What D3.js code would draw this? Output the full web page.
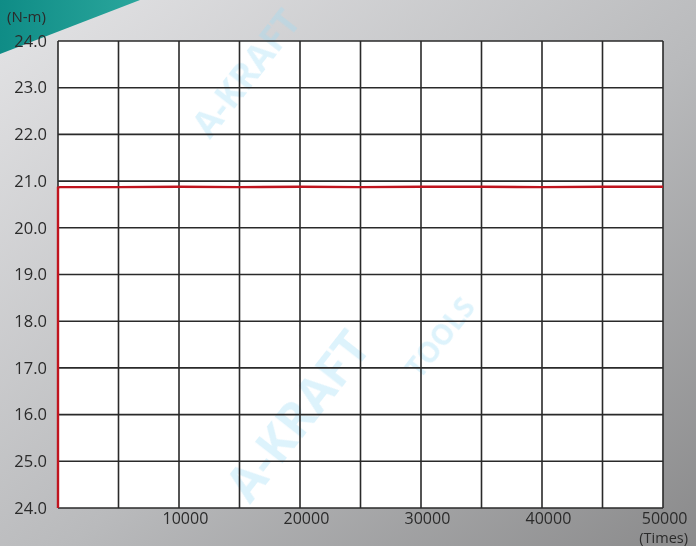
<!DOCTYPE html>
<html>
<head>
<meta charset="utf-8">
<script src="https://cdn.jsdelivr.net/npm/d3@7.9.0/dist/d3.min.js"></script>
<style>
  html, body { margin: 0; padding: 0; background: #b8b8ba; }
  svg { display: block; font-family: "Open Sans", "DejaVu Sans", sans-serif; }
</style>
</head>
<body>
<svg id="chart" width="696" height="546"></svg>
<script>
// ---- data ----
const yTicks = [14, 15, 16, 17, 18, 19, 20, 21, 22, 23, 24];
const yTickLabels = ["24.0", "25.0", "16.0", "17.0", "18.0", "19.0", "20.0", "21.0", "22.0", "23.0", "24.0"];
const xTicks = [10000, 20000, 30000, 40000, 50000];
const xGrid = [0, 5000, 10000, 15000, 20000, 25000, 30000, 35000, 40000, 45000, 50000];
const cycles = [0, 0, 0, 150, 5000, 10000, 15000, 20000, 25000, 30000, 35000, 40000, 45000, 50000];
const torque = [14, 17.3, 20.86, 20.87, 20.87, 20.88, 20.87, 20.88, 20.87, 20.88, 20.88, 20.87, 20.88, 20.88];

const width = 696, height = 546;
const margin = { top: 41, right: 33, bottom: 38, left: 58 };

const svg = d3.select("#chart");
const defs = svg.append("defs");

// background gradient
const bg = defs.append("linearGradient").attr("id", "bg")
  .attr("x1", "0").attr("y1", "0").attr("x2", "1").attr("y2", "1");
bg.append("stop").attr("offset", "0%").attr("stop-color", "#e4e4e6");
bg.append("stop").attr("offset", "55%").attr("stop-color", "#b9babc");
bg.append("stop").attr("offset", "100%").attr("stop-color", "#8a8a8b");

const teal = defs.append("linearGradient").attr("id", "teal")
  .attr("x1", "0").attr("y1", "0").attr("x2", "1").attr("y2", "0");
teal.append("stop").attr("offset", "0%").attr("stop-color", "#0f8c86");
teal.append("stop").attr("offset", "100%").attr("stop-color", "#2aa69c");

svg.append("rect").attr("width", width).attr("height", height).attr("fill", "url(#bg)");
svg.append("path").attr("d", "M0,0 L140,0 L0,54 Z").attr("fill", "url(#teal)");

const x = d3.scaleLinear().domain([0, 50000]).range([margin.left, width - margin.right]);
const y = d3.scaleLinear().domain([14, 24]).range([height - margin.bottom, margin.top]);

// plot area
svg.append("rect")
  .attr("x", x(0)).attr("y", y(24))
  .attr("width", x(50000) - x(0)).attr("height", y(14) - y(24))
  .attr("fill", "#fff");

// watermark
const wm = svg.append("g").attr("opacity", 0.35);
wm.append("text")
  .attr("transform", "translate(210,140) rotate(-52)")
  .attr("font-size", 36).attr("font-weight", "bold").attr("fill", "#9fdcf5")
  .text("A-KRAFT");
wm.append("text")
  .attr("transform", "translate(250,505) rotate(-52)")
  .attr("font-size", 48).attr("font-weight", "bold").attr("fill", "#9fdcf5")
  .text("A-KRAFT");
wm.append("text")
  .attr("transform", "translate(420,380) rotate(-52)")
  .attr("font-size", 28).attr("font-weight", "bold").attr("fill", "#9fdcf5")
  .text("TOOLS");

// grid
svg.append("g")
  .selectAll("line.v").data(xGrid).join("line")
  .attr("x1", d => x(d)).attr("x2", d => x(d))
  .attr("y1", y(24)).attr("y2", y(14))
  .attr("stroke", "#2a2a2a").attr("stroke-width", 1.6);
svg.append("g")
  .selectAll("line.h").data(yTicks).join("line")
  .attr("x1", x(0)).attr("x2", x(50000))
  .attr("y1", d => y(d)).attr("y2", d => y(d))
  .attr("stroke", "#2a2a2a").attr("stroke-width", 1.6);

// axes labels
const yAxis = svg.append("g")
  .attr("transform", `translate(${x(0)},0)`)
  .call(d3.axisLeft(y).tickValues(yTicks).tickSize(0).tickPadding(11)
    .tickFormat((d, i) => yTickLabels[i]));
yAxis.select(".domain").remove();
yAxis.selectAll("text").attr("font-size", 16.5).attr("fill", "#2b2b2b")
  .attr("font-family", "\"Open Sans\", sans-serif");

const xAxis = svg.append("g")
  .attr("transform", `translate(0,${y(14)})`)
  .call(d3.axisBottom(x).tickValues(xTicks).tickSize(0).tickPadding(5)
    .tickFormat(d3.format("d")));
xAxis.select(".domain").remove();
xAxis.selectAll("text").attr("font-size", 16).attr("fill", "#2b2b2b")
  .attr("text-anchor", "end").attr("dx", d => d === 50000 ? "1.5em" : "1.8em")
  .attr("font-family", "\"Open Sans\", sans-serif");

svg.append("text").attr("x", 7).attr("y", 22)
  .attr("font-size", 15).attr("fill", "#2b2b2b").text("(N-m)");
svg.append("text").attr("x", 688).attr("y", 543).attr("text-anchor", "end")
  .attr("font-size", 14.5).attr("fill", "#2b2b2b").text("(Times)");

// series
const line = d3.line().x((d, i) => x(cycles[i])).y(d => y(d));
svg.append("path")
  .datum(torque)
  .attr("d", line)
  .attr("fill", "none")
  .attr("stroke", "#c0141e")
  .attr("stroke-width", 2.4);
</script>
</body>
</html>
